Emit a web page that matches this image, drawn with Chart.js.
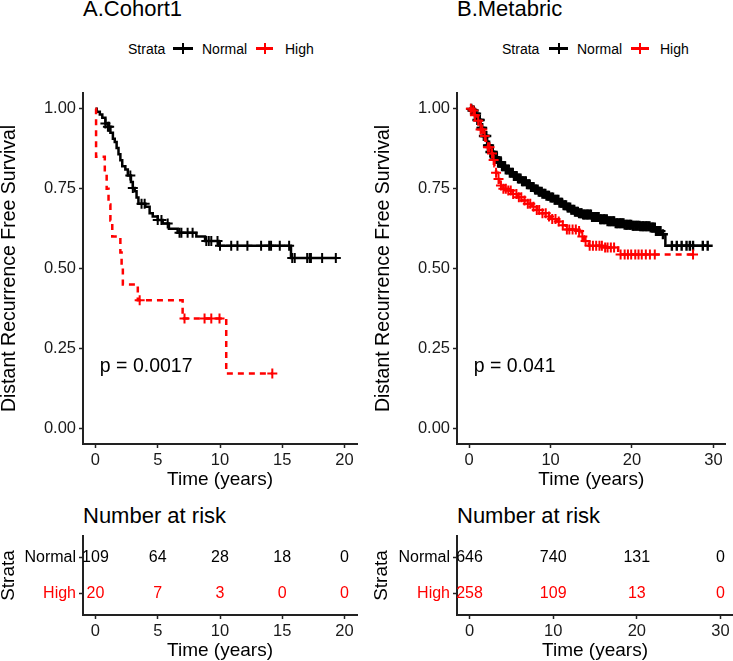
<!DOCTYPE html>
<html>
<head>
<meta charset="utf-8">
<script src="https://cdn.jsdelivr.net/npm/chart.js@4.4.1/dist/chart.umd.min.js"></script>
<style>
body{margin:0;background:#fff;}
#fig{position:relative;width:733px;height:661px;overflow:hidden;font-family:"Liberation Sans",Arial,sans-serif;color:#000;}
#fig canvas{position:absolute;}
.ttl{position:absolute;font-size:22px;line-height:22px;white-space:nowrap;}
.leg{position:absolute;font-size:14px;line-height:14px;white-space:nowrap;}
.sym{position:absolute;height:2.5px;}
.sym i{position:absolute;left:50%;margin-left:-1px;top:-4px;width:2px;height:10.5px;}
</style>
</head>
<body>
<div id="fig">
  <div class="ttl" style="left:83px;top:-2px">A.Cohort1</div>
  <div class="ttl" style="left:457px;top:-2px">B.Metabric</div>

  <div class="leg" style="left:128px;top:42px">Strata</div>
  <div class="sym" style="left:173px;top:47px;width:20px;background:#000"><i style="background:#000"></i></div>
  <div class="leg" style="left:202px;top:42px">Normal</div>
  <div class="sym" style="left:256px;top:47px;width:17px;background:#ff0000"><i style="background:#ff0000"></i></div>
  <div class="leg" style="left:285px;top:42px">High</div>

  <div class="leg" style="left:502px;top:42px">Strata</div>
  <div class="sym" style="left:549px;top:47px;width:19px;background:#000"><i style="background:#000"></i></div>
  <div class="leg" style="left:577px;top:42px">Normal</div>
  <div class="sym" style="left:631px;top:47px;width:18px;background:#ff0000"><i style="background:#ff0000"></i></div>
  <div class="leg" style="left:660px;top:42px">High</div>

  <div class="ttl" style="left:83px;top:505px">Number at risk</div>
  <div class="ttl" style="left:457px;top:505px">Number at risk</div>

  <canvas id="kmA" width="366" height="410" style="left:0;top:80px"></canvas>
  <canvas id="kmB" width="367" height="410" style="left:366px;top:80px"></canvas>
  <canvas id="riskA" width="366" height="171" style="left:0;top:490px"></canvas>
  <canvas id="riskB" width="367" height="171" style="left:366px;top:490px"></canvas>
</div>

<script>
// ---------- data ----------
const survTicks = [0, 0.25, 0.5, 0.75, 1];
const strata = ["Normal", "High"];

// A. Cohort1
const c1Ticks = [0, 5, 10, 15, 20];
const c1NormalT = [0, 0.10, 0.35, 0.55, 0.80, 1.00, 1.20, 1.40, 1.55, 1.70, 1.85, 2.00, 2.15, 2.40, 2.60, 2.85, 3.00, 3.15, 3.30, 3.45, 4.00, 4.35, 4.60, 5.00, 5.40, 5.90, 6.60, 8.10, 8.80, 9.90, 15.70, 19.30];
const c1NormalS = [1, 0.991, 0.982, 0.972, 0.954, 0.944, 0.925, 0.906, 0.896, 0.877, 0.858, 0.839, 0.820, 0.810, 0.791, 0.771, 0.752, 0.742, 0.722, 0.703, 0.693, 0.673, 0.663, 0.652, 0.641, 0.624, 0.612, 0.600, 0.586, 0.571, 0.533, 0.533];
const c1NormalCens = [0.8, 1.0, 1.1, 2.8, 3.0, 3.7, 3.95, 5.0, 5.3, 5.8, 6.75, 6.9, 7.4, 7.8, 8.9, 9.1, 9.3, 9.8, 10.0, 10.9, 11.4, 12.2, 13.3, 13.95, 14.1, 14.8, 15.55, 15.8, 16.0, 17.0, 17.2, 17.3, 18.2, 19.3];
const c1HighT = [0, 0.05, 0.75, 0.90, 1.05, 1.20, 1.35, 2.00, 2.10, 2.20, 3.40, 7.00, 10.50, 14.20];
const c1HighS = [1, 0.85, 0.80, 0.75, 0.70, 0.65, 0.60, 0.55, 0.50, 0.45, 0.40, 0.343, 0.171, 0.171];
const c1HighCens = [3.55, 7.15, 8.76, 9.3, 9.96, 14.2];
const c1RiskNormal = [109, 64, 28, 18, 0];
const c1RiskHigh = [20, 7, 3, 0, 0];

// B. Metabric
const mbTicks = [0, 10, 20, 30];
const mbNormalT = [0, 0.3, 0.6, 1.0, 1.4, 1.8, 2.2, 2.6, 3.0, 3.5, 4.0, 4.5, 5.0, 5.5, 6.0, 6.5, 7.0, 7.5, 8.0, 8.5, 9.0, 9.5, 10.0, 10.5, 11.0, 11.5, 12.0, 12.5, 13.0, 13.5, 14.0, 15.0, 16.0, 17.0, 18.0, 19.0, 20.0, 21.0, 22.3, 22.9, 23.6, 24.1, 29.3];
const mbNormalS = [1, 0.995, 0.985, 0.965, 0.94, 0.915, 0.885, 0.865, 0.848, 0.832, 0.82, 0.81, 0.80, 0.79, 0.782, 0.773, 0.764, 0.755, 0.747, 0.740, 0.734, 0.728, 0.722, 0.715, 0.706, 0.698, 0.691, 0.684, 0.678, 0.673, 0.669, 0.661, 0.654, 0.648, 0.642, 0.637, 0.634, 0.632, 0.628, 0.617, 0.607, 0.571, 0.571];
const mbNormalCens = [0.25, 0.4, 0.55, 0.7, 0.85, 1.0, 1.2, 1.3, 1.5, 1.6, 1.8, 1.95, 2.1, 2.3, 2.45, 2.6, 2.75, 2.9, 3.1, 3.2, 3.4, 3.55, 3.7, 3.9, 4.05, 4.2, 4.4, 4.5, 4.7, 4.85, 5.0, 5.2, 5.35, 5.5, 5.7, 5.8, 6.0, 6.15, 6.3, 6.5, 6.6, 6.8, 6.95, 7.1, 7.3, 7.4, 7.6, 7.75, 7.9, 8.1, 8.2, 8.4, 8.55, 8.7, 8.9, 9.0, 9.2, 9.35, 9.5, 9.7, 9.8, 10.0, 10.15, 10.3, 10.5, 10.6, 10.8, 10.95, 11.1, 11.3, 11.4, 11.6, 11.75, 11.9, 12.1, 12.2, 12.4, 12.55, 12.7, 12.9, 13.0, 13.2, 13.35, 13.5, 13.7, 13.8, 14.0, 14.15, 14.3, 14.5, 14.6, 14.8, 14.95, 15.1, 15.3, 15.4, 15.6, 15.75, 15.9, 16.1, 16.2, 16.4, 16.55, 16.7, 16.9, 17.0, 17.2, 17.35, 17.5, 17.7, 17.8, 18.0, 18.15, 18.3, 18.5, 18.6, 18.8, 18.95, 19.1, 19.3, 19.4, 19.6, 19.75, 19.9, 20.1, 20.2, 20.4, 20.55, 20.7, 20.9, 21.0, 21.2, 21.35, 21.5, 21.7, 21.8, 22.0, 22.15, 22.3, 22.5, 22.6, 22.8, 22.95, 23.1, 23.3, 23.5, 23.8, 24.9, 25.5, 26.1, 26.7, 27.1, 27.5, 28.7, 29.3];
const mbHighT = [0, 0.3, 0.7, 1.0, 1.4, 1.7, 2.0, 2.3, 2.6, 2.9, 3.1, 3.3, 3.5, 3.7, 4.2, 4.7, 5.3, 5.9, 6.5, 7.1, 7.7, 8.3, 8.9, 9.5, 10.1, 10.7, 11.3, 11.9, 13.5, 13.8, 14.1, 14.7, 16.5, 18.3, 27.5];
const mbHighS = [1, 0.995, 0.98, 0.963, 0.935, 0.915, 0.90, 0.88, 0.86, 0.84, 0.82, 0.80, 0.78, 0.76, 0.75, 0.744, 0.733, 0.723, 0.713, 0.703, 0.693, 0.683, 0.673, 0.663, 0.655, 0.647, 0.635, 0.622, 0.617, 0.60, 0.586, 0.571, 0.566, 0.544, 0.544];
const mbHighCens = [0.2, 0.5, 0.7, 1.1, 1.4, 1.6, 1.9, 2.3, 2.5, 2.8, 3.0, 3.3, 3.6, 3.9, 4.2, 4.5, 4.8, 5.1, 5.4, 5.8, 6.1, 6.4, 6.8, 7.2, 7.5, 7.9, 8.3, 8.6, 9.0, 9.4, 9.8, 10.2, 10.6, 11.0, 11.5, 12.0, 12.3, 12.7, 13.1, 13.5, 13.9, 14.3, 14.8, 15.2, 15.6, 16.0, 16.3, 16.7, 17.0, 17.4, 17.8, 18.6, 19.1, 19.5, 19.9, 20.4, 20.8, 21.2, 21.7, 22.2, 22.8, 27.5];
const mbRiskNormal = [646, 740, 131, 0];
const mbRiskHigh = [258, 109, 13, 0];

// ---------- helpers ----------
const FONT = "'Liberation Sans', Arial, sans-serif";
const RED = "#ff0000";
Chart.defaults.font.family = FONT;
Chart.defaults.color = "#000";

function survAt(T, S, t) {
  let s = S[0];
  for (let i = 0; i < T.length; i++) if (T[i] <= t) s = S[i];
  return s;
}
function curve(T, S) { return T.map((t, i) => ({x: t, y: S[i]})); }
function marks(T, S, C) { return C.map(t => ({x: t, y: survAt(T, S, t)})); }

function axisLook() {
  return {
    grid: {display: true, drawOnChartArea: false, drawTicks: true, tickLength: 4, tickWidth: 1.5, color: "#222"},
    border: {display: true, color: "#222", width: 2}
  };
}

function xAxis(ticks, min, max) {
  return Object.assign(axisLook(), {
    type: "linear", min: min, max: max,
    afterBuildTicks: s => { s.ticks = ticks.map(v => ({value: v})); },
    afterFit: s => { s.height = 46; },
    ticks: {font: {size: 16.5}, color: "#1a1a1a", padding: 3, maxRotation: 0, autoSkip: false, callback: v => String(v)},
    title: {display: true, text: "Time (years)", font: {size: 19, lineHeight: 1}, color: "#000", padding: {top: 0, bottom: 1}}
  });
}

const pLabel = {
  id: "pLabel",
  afterDatasetsDraw(chart, args, opts) {
    const {ctx, scales} = chart;
    ctx.save();
    ctx.font = "19.5px " + FONT;
    ctx.fillStyle = "#000";
    ctx.textAlign = "left";
    ctx.textBaseline = "alphabetic";
    ctx.fillText(opts.text, scales.x.getPixelForValue(opts.x), scales.y.getPixelForValue(opts.y));
    ctx.restore();
  }
};

const riskLabels = {
  id: "riskLabels",
  afterDatasetsDraw(chart) {
    const ctx = chart.ctx;
    ctx.save();
    ctx.font = "16px " + FONT;
    ctx.textAlign = "center";
    ctx.textBaseline = "middle";
    chart.data.datasets.forEach((ds, di) => {
      ctx.fillStyle = ds.textColor;
      chart.getDatasetMeta(di).data.forEach((pt, i) => {
        ctx.fillText(String(ds.data[i].n), pt.x, pt.y);
      });
    });
    ctx.restore();
  }
};

// ---------- KM plot ----------
function kmChart(id, o) {
  new Chart(document.getElementById(id), {
    type: "scatter",
    data: {
      datasets: [
        {data: marks(o.hT, o.hS, o.hC), pointStyle: "cross", pointRadius: 5, pointBorderColor: RED, pointBorderWidth: 2, borderColor: RED},
        {data: curve(o.hT, o.hS), showLine: true, stepped: true, borderColor: RED, borderWidth: 2.5, borderDash: [6, 5], pointRadius: 0, fill: false},
        {data: marks(o.nT, o.nS, o.nC), pointStyle: "cross", pointRadius: 5, pointBorderColor: "#000", pointBorderWidth: o.censWidth, borderColor: "#000"},
        {data: curve(o.nT, o.nS), showLine: true, stepped: true, borderColor: "#000", borderWidth: 2.5, pointRadius: 0, fill: false}
      ]
    },
    options: {
      responsive: false,
      animation: false,
      devicePixelRatio: 1,
      events: [],
      layout: {padding: {top: 5, right: o.padRight, left: 0, bottom: 0}},
      plugins: {
        legend: {display: false},
        tooltip: {enabled: false},
        pLabel: {text: o.pText, x: o.pX, y: 0.175}
      },
      scales: {
        x: xAxis(o.xTicks, o.xMin, o.xMax),
        y: Object.assign(axisLook(), {
          type: "linear", min: -0.05, max: 1.05,
          afterBuildTicks: s => { s.ticks = survTicks.map(v => ({value: v})); },
          afterFit: s => { s.width = o.yWidth; },
          ticks: {font: {size: 16.5}, color: "#1a1a1a", padding: 3, autoSkip: false, callback: v => v.toFixed(2)},
          title: {display: true, text: "Distant Recurrence Free Survival", font: {size: 19.5, lineHeight: 1}, color: "#000", padding: {top: o.titlePad, bottom: 0}}
        })
      }
    },
    plugins: [pLabel]
  });
}

// ---------- risk table ----------
function riskChart(id, o) {
  new Chart(document.getElementById(id), {
    type: "scatter",
    data: {
      datasets: [
        {data: o.normal.map((n, i) => ({x: o.xTicks[i], y: 0, n: n})), pointRadius: 0, textColor: "#000"},
        {data: o.high.map((n, i) => ({x: o.xTicks[i], y: 1, n: n})), pointRadius: 0, textColor: RED}
      ]
    },
    options: {
      responsive: false,
      animation: false,
      devicePixelRatio: 1,
      events: [],
      layout: {padding: {top: 46, right: o.padRight, left: 0, bottom: 0}},
      plugins: {legend: {display: false}, tooltip: {enabled: false}},
      scales: {
        x: xAxis(o.xTicks, o.xMin, o.xMax),
        y: Object.assign(axisLook(), {
          type: "linear", reverse: true, min: -0.61, max: 1.583,
          afterBuildTicks: s => { s.ticks = strata.map((v, i) => ({value: i})); },
          afterFit: s => { s.width = o.yWidth; },
          ticks: {font: {size: 16}, padding: 3, autoSkip: false, callback: v => strata[v],
                  color: c => (c.index === 0 ? "#000" : RED)},
          title: {display: true, text: "Strata", font: {size: 19, lineHeight: 1}, color: "#000", padding: {top: o.titlePad - 1, bottom: 0}}
        })
      }
    },
    plugins: [riskLabels]
  });
}

kmChart("kmA", {
  nT: c1NormalT, nS: c1NormalS, nC: c1NormalCens,
  hT: c1HighT, hS: c1HighS, hC: c1HighCens,
  xTicks: c1Ticks, xMin: -1, xMax: 21, yWidth: 83, padRight: 9, titlePad: 0, censWidth: 2,
  pText: "p = 0.0017", pX: 0.35
});
kmChart("kmB", {
  nT: mbNormalT, nS: mbNormalS, nC: mbNormalCens,
  hT: mbHighT, hS: mbHighS, hC: mbHighCens,
  xTicks: mbTicks, xMin: -1.5, xMax: 31.5, yWidth: 91, padRight: 0, titlePad: 7.5, censWidth: 2.4,
  pText: "p = 0.041", pX: 0.55
});
riskChart("riskA", {
  normal: c1RiskNormal, high: c1RiskHigh,
  xTicks: c1Ticks, xMin: -1, xMax: 21, yWidth: 83, padRight: 9, titlePad: 0
});
riskChart("riskB", {
  normal: mbRiskNormal, high: mbRiskHigh,
  xTicks: mbTicks, xMin: -1.5, xMax: 31.5, yWidth: 91, padRight: 0, titlePad: 7.5
});
</script>
</body>
</html>
